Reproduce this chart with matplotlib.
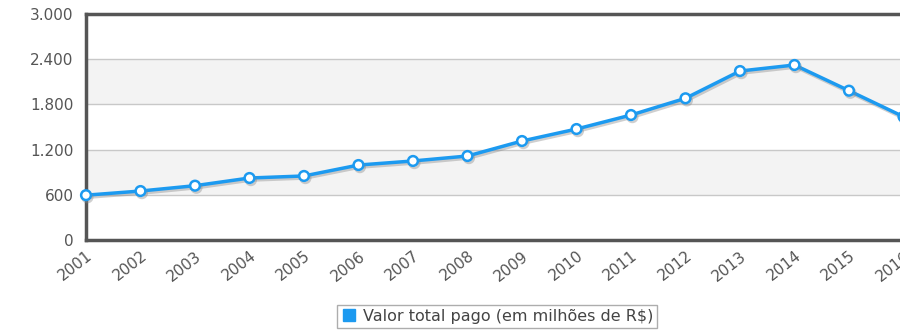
import matplotlib.pyplot as plt
import matplotlib.patheffects as pe

anos = [2001, 2002, 2003, 2004, 2005, 2006, 2007, 2008,
        2009, 2010, 2011, 2012, 2013, 2014, 2015, 2016]
valor_pago = [595, 650, 721, 823, 850, 995, 1049, 1115,
              1314, 1473, 1659, 1881, 2243, 2323, 1982, 1637]
y_ticks = [0, 600, 1200, 1800, 2400, 3000]
y_labels = ["0", "600", "1.200", "1.800", "2.400", "3.000"]
serie_nome = "Valor total pago (em milhões de R$)"

W, H = 900, 331
fig = plt.figure(figsize=(W / 100, H / 100), dpi=100)
x0, x1 = 86, 86 + 15.5 * 54.5
ax = fig.add_axes([x0 / W, (H - 240) / H, (x1 - x0) / W, 226 / H])
ax.set_facecolor("white")

# alternating bands: 600-1200 and 1800-2400 shaded
for lo, hi in [(600, 1200), (1800, 2400)]:
    ax.axhspan(lo, hi, facecolor="#f3f3f3", edgecolor="none", zorder=0)
for t in y_ticks[1:-1]:
    ax.axhline(t, color="#c8c8c8", lw=1, zorder=1)

ax.plot(anos, valor_pago, color="#1c9af0", lw=2.5, marker="o", ms=7,
        mfc="white", mec="#1c9af0", mew=1.8, zorder=3, clip_on=False,
        path_effects=[pe.SimpleLineShadow(offset=(1, -1.5), shadow_color="#888", alpha=0.4),
                      pe.Normal()])

ax.set_xlim(2001, 2001 + (x1 - x0) / 54.5)
ax.set_ylim(0, 3000)
ax.set_yticks(y_ticks)
ax.set_yticklabels(y_labels)
ax.set_xticks(anos)
ax.set_xticklabels([str(a) for a in anos], rotation=38, ha="right",
                   rotation_mode="anchor")
ax.tick_params(length=0, labelsize=11, colors="#555555")
ax.tick_params(axis="y", pad=9)
ax.tick_params(axis="x", pad=6)
for s in ["left", "top", "bottom"]:
    ax.spines[s].set_color("#555555")
    ax.spines[s].set_linewidth(2.5)
ax.spines["right"].set_visible(False)

handle = plt.Line2D([], [], ls="", marker="s", ms=8, color="#1c9af0")
fig.legend([handle], [serie_nome], loc="upper center",
           bbox_to_anchor=(497 / W, 1 - 305 / H), borderaxespad=0,
           frameon=True, fancybox=False, edgecolor="#999999", fontsize=11.5,
           handletextpad=0.4, borderpad=0.25, handlelength=1.0,
           labelcolor="#444444")

fig.savefig("out.png", dpi=100)
